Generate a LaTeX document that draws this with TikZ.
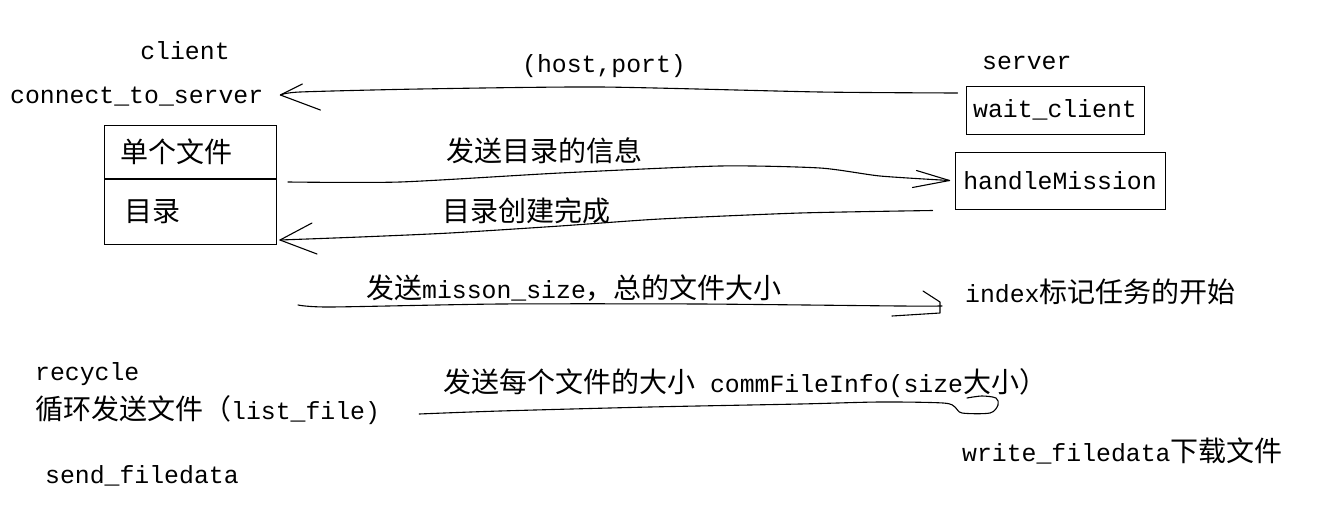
\documentclass[tikz,border=0pt]{standalone}
\usepackage{fontspec}
\setmainfont{Liberation Mono}
\newfontfamily\cjk{Noto Sans CJK SC}
\usetikzlibrary{positioning}
\newcommand{\zh}[1]{{\fontsize{28}{32}\cjk #1}}

\begin{document}
\begin{tikzpicture}[
    x=1pt, y=-1pt,
    txt/.style={inner sep=0pt, anchor=west, font=\fontsize{24.8}{28}\selectfont},
    frame/.style={draw, line width=1pt, inner sep=0pt, font=\fontsize{24.8}{28}\selectfont},
    hand/.style={line width=1.1pt, line join=round, line cap=round},
]
\useasboundingbox[fill=white] (0,0) rectangle (1331,509);

% client side
\node[txt, anchor=center] (client) at (185,51) {client};
\node[txt] (conn) at (10,97) {connect\_to\_server};
\node[frame, anchor=north west, minimum width=172pt, minimum height=53pt, text width=140pt, align=left] (single) at (104,125) {\zh{单个文件}};
\node[frame, below=0pt of single, minimum width=172pt, minimum height=65pt, text width=132pt, align=left] (dir) {\zh{目录}};
\node[txt] (recycle) at (35,374) {recycle};
\node[txt] (loop) at (35,410) {\zh{循环发送文件（}list\_file)};
\node[txt] (send) at (45,476) {send\_filedata};

% server side
\node[txt] (server) at (982,63) {server};
\node[frame, minimum width=178pt, minimum height=48pt] (wait) at (1055,110) {wait\_client};
\node[frame, minimum width=210pt, minimum height=57pt] (handle) at (1060,180.5) {handleMission};
\node[txt] (index) at (965,292) {index\zh{标记任务的开始}};
\node[txt] (write) at (962,451) {write\_filedata\zh{下载文件}};

% messages
\node[txt, anchor=center] (host) at (604,66) {(host,port)};
\node[txt] (info) at (446,151) {\zh{发送目录的信息}};
\node[txt] (done) at (442,211) {\zh{目录创建完成}};
\node[txt] (msize) at (366,288) {\zh{发送}misson\_size\zh{，总的文件大小}};
\node[txt] (fsize) at (443,383) {\zh{发送每个文件的大小} commFileInfo(size\zh{大小）}};

\coordinate (a1) at ([shift={(-8,-17)}]wait.west);
\coordinate (b1) at ([shift={(17,-2)}]conn.east);
\coordinate (a2) at ([shift={(11,3)}]single.south east);
\coordinate (b2) at ([xshift=-5pt]handle.west);
\coordinate (a3) at ([shift={(-22,30)}]handle.west);
\coordinate (b3) at ([shift={(3,-5)}]dir.south east);
\coordinate (a4) at (298,305);
\coordinate (b4) at ([shift={(-23,14)}]index.west);
\coordinate (a5) at ([shift={(39,4)}]loop.east);

% (host,port)
\draw[hand] plot[smooth, tension=0.4] coordinates {(a1) (820,92) (600,87) (420,89) (300,92) (b1)};
\draw[hand] ([shift={(22,-11)}]b1) -- (b1) -- ([shift={(40,15)}]b1);
% directory info
\draw[hand] plot[smooth, tension=0.4] coordinates {(a2) (400,182) (560,173) (720,166) (820,168) (880,176) (b2)};
\draw[hand] ([shift={(-33,-10)}]b2) -- (b2) -- ([shift={(-37,7)}]b2);
% directory done
\draw[hand] plot[smooth, tension=0.4] coordinates {(a3) (800,213) (660,219) (560,226) (450,233) (360,237) (b3)};
\draw[hand] ([shift={(32,-17)}]b3) -- (b3) -- ([shift={(37,14)}]b3);
% mission size
\draw[hand] plot[smooth, tension=0.4] coordinates {(a4) (330,307) (500,304) (700,304) (900,306) (b4)};
\draw[hand] (923,291) -- (940,302) -- (940,313) -- (892,316);
% file size
\draw[hand] plot[smooth, tension=0.5] coordinates {(a5) (500,411) (650,407) (800,404) (880,402) (943,403) (955,407) (962,413) (990,413) (998,405) (996,398) (982,396) (967,398)};
\end{tikzpicture}
\end{document}
